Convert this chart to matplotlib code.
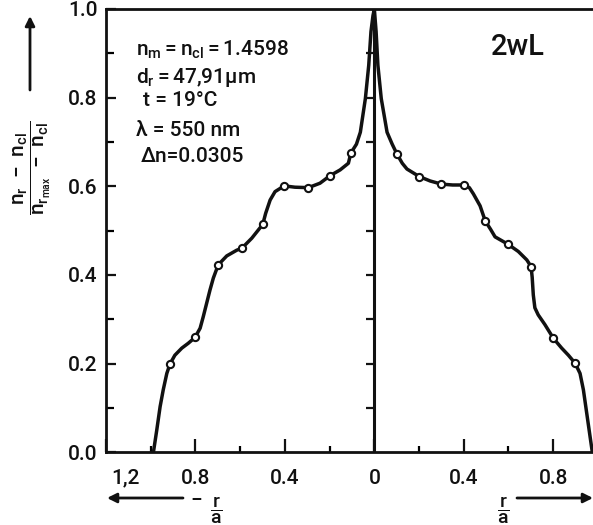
import matplotlib
matplotlib.use("Agg")
import matplotlib.pyplot as plt
from matplotlib.ticker import MultipleLocator, FixedLocator

plt.rcParams['font.family'] = ['Roboto', 'DejaVu Sans']
plt.rcParams['font.weight'] = 'medium'
plt.rcParams['mathtext.fontset'] = 'custom'
plt.rcParams['mathtext.rm'] = 'Roboto:medium'
plt.rcParams['mathtext.it'] = 'Roboto:medium'
plt.rcParams['mathtext.bf'] = 'Roboto:bold'

# measured points (open circles)
pts_x_left = [-0.914, -0.802, -0.698, -0.593, -0.499, -0.403, -0.295, -0.198, -0.105]
pts_y_left = [0.199, 0.259, 0.423, 0.460, 0.514, 0.601, 0.597, 0.624, 0.675]
pts_x_right = [0.101, 0.201, 0.300, 0.402, 0.496, 0.599, 0.701, 0.801, 0.898]
pts_y_right = [0.673, 0.622, 0.605, 0.603, 0.522, 0.469, 0.419, 0.257, 0.201]

# drawn profile curve
curve_x = [-0.988, -0.973, -0.958, -0.944, -0.928, -0.914, -0.892, -0.861, -0.832, -0.802,
           -0.779, -0.765, -0.750, -0.735, -0.720, -0.698, -0.660, -0.615, -0.593, -0.548,
           -0.499, -0.486, -0.466, -0.444, -0.403, -0.355, -0.295, -0.243, -0.198, -0.153,
           -0.116, -0.105, -0.080, -0.0625, -0.040, -0.025, -0.015, -0.006, 0.0,
           0.008, 0.016, 0.031, 0.057, 0.080, 0.101, 0.125, 0.146, 0.201, 0.250, 0.300,
           0.350, 0.402, 0.425, 0.443, 0.473, 0.496, 0.520, 0.540, 0.599, 0.644, 0.682,
           0.701, 0.706, 0.711, 0.718, 0.733, 0.763, 0.801, 0.838, 0.868, 0.898, 0.920, 0.935,
           0.950, 0.965, 0.975]
curve_y = [0.0, 0.050, 0.103, 0.141, 0.178, 0.199, 0.219, 0.235, 0.246, 0.259,
           0.280, 0.306, 0.336, 0.366, 0.393, 0.423, 0.443, 0.456, 0.460, 0.483,
           0.514, 0.539, 0.569, 0.588, 0.601, 0.598, 0.597, 0.607, 0.624, 0.637,
           0.652, 0.675, 0.695, 0.722, 0.798, 0.873, 0.949, 0.985, 1.0,
           0.949, 0.873, 0.798, 0.722, 0.695, 0.673, 0.652, 0.639, 0.622, 0.612, 0.605,
           0.603, 0.603, 0.597, 0.583, 0.556, 0.522, 0.503, 0.486, 0.469, 0.453, 0.434,
           0.419, 0.395, 0.355, 0.326, 0.310, 0.288, 0.257, 0.235, 0.219, 0.201, 0.178, 0.141,
           0.088, 0.035, 0.0]

xtick_pos = [-1.2, -0.8, -0.4, 0.0, 0.4, 0.8]
xtick_lab = ['', '0.8', '0.4', '0', '0.4', '0.8']
ytick_pos = [0.0, 0.2, 0.4, 0.6, 0.8, 1.0]
ytick_lab = ['0.0', '0.2', '0.4', '0.6', '0.8', '1.0']
center_ticks = [0.1, 0.2, 0.3, 0.4, 0.5, 0.6, 0.7, 0.8, 0.9]

ink = '#111111'
fig = plt.figure(figsize=(5.93, 5.25), dpi=100)
ax = fig.add_axes([106/593, (525-452.3)/525, (593-106)/593, (452.3-9)/525])

ax.plot(curve_x, curve_y, color=ink, lw=2.5, solid_joinstyle='round', solid_capstyle='round', zorder=3)
ax.plot(pts_x_left, pts_y_left, 'o', ms=5.2, mfc='white', mec=ink, mew=1.5, zorder=4)
ax.plot(pts_x_right, pts_y_right, 'o', ms=5.2, mfc='white', mec=ink, mew=1.5, zorder=4)

ax.axvline(0, color=ink, lw=2.2, zorder=2)
ax.plot([0]*len(center_ticks), center_ticks, linestyle='none', marker=0, ms=5.5, mew=1.6, color=ink, zorder=2)

ax.set_xlim(-1.2, 0.978)
ax.set_ylim(0, 1.0)

for s in ['left', 'bottom', 'top']:
    ax.spines[s].set_linewidth(2.0)
    ax.spines[s].set_color(ink)
ax.spines['right'].set_visible(False)

ax.xaxis.set_major_locator(FixedLocator(xtick_pos))
ax.set_xticklabels(xtick_lab)
ax.xaxis.set_minor_locator(MultipleLocator(0.2))
ax.yaxis.set_major_locator(FixedLocator(ytick_pos))
ax.set_yticklabels(ytick_lab)
ax.yaxis.set_minor_locator(MultipleLocator(0.1))

ax.tick_params(axis='x', which='major', direction='in', length=9.5, width=1.6, pad=12,
               labelsize=15, colors=ink, top=False)
ax.tick_params(axis='x', which='minor', direction='in', length=4.5, width=1.6, top=False)
ax.tick_params(axis='y', which='major', direction='in', length=7.5, width=1.6, pad=6,
               labelsize=15, colors=ink, right=False)
ax.tick_params(axis='y', which='minor', direction='in', length=6, width=1.6, right=False)

def fx(px):
    return px / 593
def fy(py):
    return 1 - py / 525

tk = dict(transform=fig.transFigure, color=ink, fontsize=15, va='center', ha='left')
fig.text(fx(125), fy(478), '1,2', transform=fig.transFigure, color=ink, fontsize=15,
         va='center', ha='center')
fig.text(fx(136), fy(50), r'$\mathrm{n_m = n_{cl} = 1.4598}$', **tk)
fig.text(fx(136), fy(77), r'$\mathrm{d_r = 47{,}91μm}$', **tk)
fig.text(fx(143), fy(101), 't = 19°C', **tk)
fig.text(fx(136), fy(130), 'λ = 550 nm', **tk)
fig.text(fx(141), fy(157), 'Δn=0.0305', **tk)
fig.text(fx(491), fy(47), '2wL', transform=fig.transFigure, color=ink, fontsize=21, va='center', ha='left')

fig.text(fx(32), fy(168), r'$\dfrac{\mathrm{n_r\ -\ n_{cl}}}{\mathrm{n_{r_{max}}\ -\ n_{cl}}}$',
         transform=fig.transFigure, rotation=90, fontsize=15, color=ink, ha='center', va='center')

arr = dict(arrowstyle='-|>', lw=2.0, color=ink, mutation_scale=14, shrinkA=0, shrinkB=0)
ax.annotate('', xy=(fx(30), fy(16)), xytext=(fx(30), fy(90)), xycoords='figure fraction',
            textcoords='figure fraction', arrowprops=arr, annotation_clip=False)
ax.annotate('', xy=(fx(107), fy(498)), xytext=(fx(183), fy(498)), xycoords='figure fraction',
            textcoords='figure fraction', arrowprops=arr, annotation_clip=False)
ax.annotate('', xy=(fx(593), fy(498)), xytext=(fx(517), fy(498)), xycoords='figure fraction',
            textcoords='figure fraction', arrowprops=arr, annotation_clip=False)
fig.text(fx(196), fy(499), r'$-$', transform=fig.transFigure,
         fontsize=15, color=ink, ha='center', va='center')
fig.text(fx(216), fy(510), r'$\dfrac{\mathrm{r}}{\mathrm{a}}$', transform=fig.transFigure,
         fontsize=14, color=ink, ha='center', va='center')
fig.text(fx(503), fy(510), r'$\dfrac{\mathrm{r}}{\mathrm{a}}$', transform=fig.transFigure,
         fontsize=14, color=ink, ha='center', va='center')

fig.savefig('out.png', dpi=100)
